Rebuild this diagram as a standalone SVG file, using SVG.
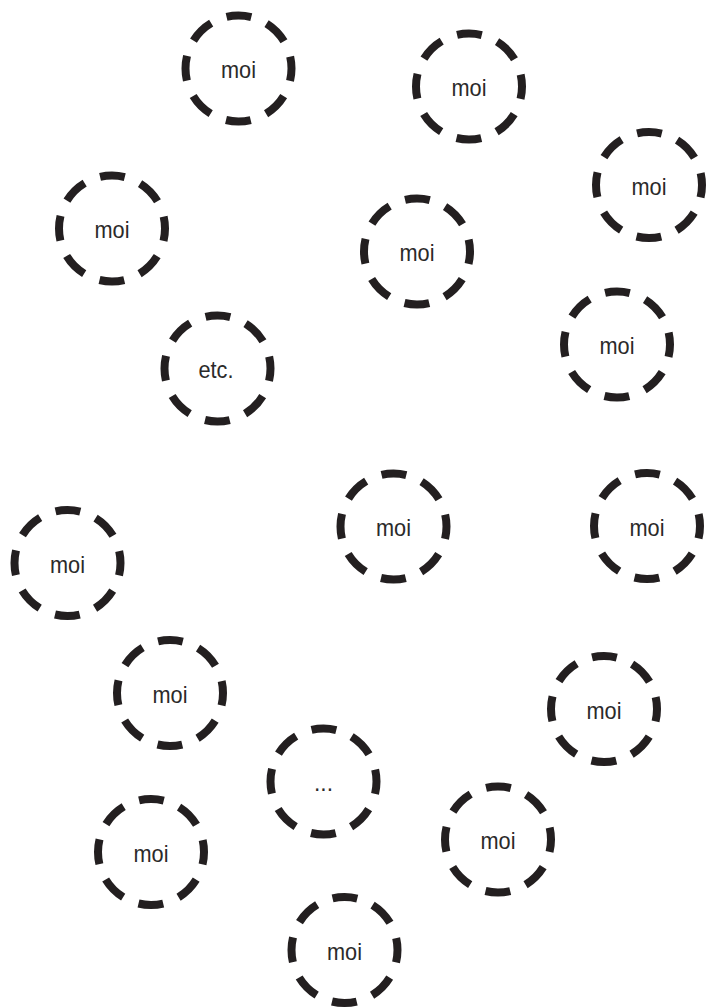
<svg xmlns="http://www.w3.org/2000/svg" width="707" height="1007" viewBox="0 0 707 1007">
<style>
.ring{fill:none;stroke:#231f20;stroke-width:8;stroke-dasharray:25 16.63;stroke-dashoffset:12.5}
.lbl{font-family:"Liberation Sans",Arial,sans-serif;font-size:24px;fill:#2b2a2a;text-anchor:middle}
</style>
<rect width="707" height="1007" fill="#ffffff"/>
<g id="connectors"></g>
<g id="n1"><circle class="ring" cx="238.5" cy="68.5" r="53"/><text class="lbl" x="238.5" y="78" textLength="35" lengthAdjust="spacingAndGlyphs">moi</text></g>
<g id="n2"><circle class="ring" cx="469" cy="86.5" r="53"/><text class="lbl" x="469" y="96" textLength="35" lengthAdjust="spacingAndGlyphs">moi</text></g>
<g id="n3"><circle class="ring" cx="649" cy="185" r="53"/><text class="lbl" x="649" y="194.5" textLength="35" lengthAdjust="spacingAndGlyphs">moi</text></g>
<g id="n4"><circle class="ring" cx="112" cy="228.5" r="53"/><text class="lbl" x="112" y="238" textLength="35" lengthAdjust="spacingAndGlyphs">moi</text></g>
<g id="n5"><circle class="ring" cx="417" cy="251.5" r="53"/><text class="lbl" x="417" y="261" textLength="35" lengthAdjust="spacingAndGlyphs">moi</text></g>
<g id="n6"><circle class="ring" cx="617" cy="344.5" r="53"/><text class="lbl" x="617" y="354" textLength="35" lengthAdjust="spacingAndGlyphs">moi</text></g>
<g id="n7"><circle class="ring" cx="217.5" cy="368.5" r="53"/><text class="lbl" x="216" y="378" textLength="35" lengthAdjust="spacingAndGlyphs">etc.</text></g>
<g id="n8"><circle class="ring" cx="393.5" cy="526.5" r="53"/><text class="lbl" x="393.5" y="536" textLength="35" lengthAdjust="spacingAndGlyphs">moi</text></g>
<g id="n9"><circle class="ring" cx="647" cy="526" r="53"/><text class="lbl" x="647" y="535.5" textLength="35" lengthAdjust="spacingAndGlyphs">moi</text></g>
<g id="n10"><circle class="ring" cx="67.5" cy="563" r="53"/><text class="lbl" x="67.5" y="572.5" textLength="35" lengthAdjust="spacingAndGlyphs">moi</text></g>
<g id="n11"><circle class="ring" cx="170" cy="693" r="53"/><text class="lbl" x="170" y="702.5" textLength="35" lengthAdjust="spacingAndGlyphs">moi</text></g>
<g id="n12"><circle class="ring" cx="604" cy="709" r="53"/><text class="lbl" x="604" y="718.5" textLength="35" lengthAdjust="spacingAndGlyphs">moi</text></g>
<g id="n13"><circle class="ring" cx="323.5" cy="781.5" r="53"/><text class="lbl" x="323.5" y="790.5" textLength="19" lengthAdjust="spacingAndGlyphs">...</text></g>
<g id="n14"><circle class="ring" cx="498" cy="839.5" r="53"/><text class="lbl" x="498" y="849" textLength="35" lengthAdjust="spacingAndGlyphs">moi</text></g>
<g id="n15"><circle class="ring" cx="151" cy="852" r="53"/><text class="lbl" x="151" y="861.5" textLength="35" lengthAdjust="spacingAndGlyphs">moi</text></g>
<g id="n16"><circle class="ring" cx="344.5" cy="950" r="53"/><text class="lbl" x="344.5" y="959.5" textLength="35" lengthAdjust="spacingAndGlyphs">moi</text></g>
</svg>
